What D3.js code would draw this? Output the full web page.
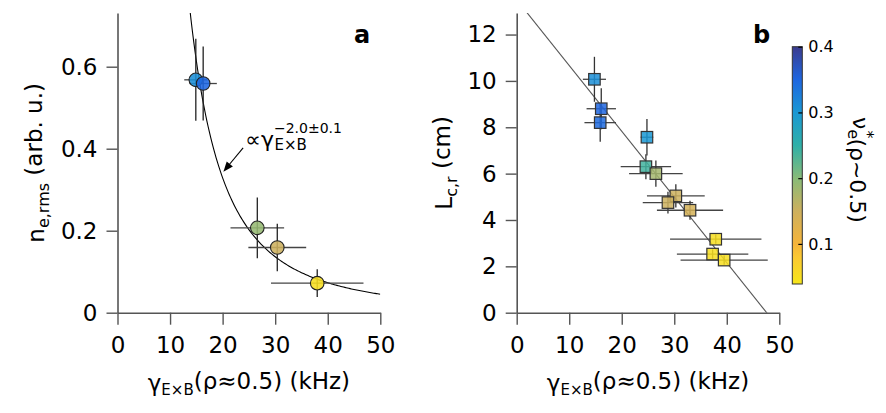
<!DOCTYPE html>
<html><head><meta charset="utf-8">
<script src="https://cdn.jsdelivr.net/npm/d3@7"></script>
<style>
body{margin:0;background:#fff;}
svg{display:block;font-family:"DejaVu Sans",sans-serif;}
</style></head>
<body>
<svg id="c" width="886" height="413"></svg>
<script>
// ---- data: panel a ----
const aGamma    = [14.9, 16.3, 26.6, 30.4, 38.0];
const aNe       = [0.568, 0.559, 0.207, 0.159, 0.072];
const aGammaErr = [2.2, 2.6, 5.1, 5.5, 8.8];
const aNeErr    = [0.10, 0.09, 0.074, 0.058, 0.034];
const aNu       = [0.31, 0.35, 0.19, 0.15, 0.05];
// power-law fit  n = A * gamma^P
const fitA = 219, fitP = -2.17;

// ---- data: panel b ----
const bGamma    = [14.8, 16.1, 15.9, 24.8, 24.6, 26.5, 30.3, 28.8, 33.0, 37.9, 37.3, 39.5];
const bLc       = [10.07, 8.80, 8.20, 7.57, 6.30, 6.00, 5.04, 4.75, 4.42, 3.17, 2.53, 2.27];
const bGammaErr = [2.2, 2.8, 3.0, 1.2, 4.8, 5.1, 5.5, 4.8, 6.3, 8.7, 6.8, 8.3];
const bLcErr    = [0.97, 0.88, 0.82, 0.79, 0.54, 0.57, 0.50, 0.47, 0.41, 0.20, 0.20, 0.20];
const bNu       = [0.31, 0.35, 0.345, 0.30, 0.24, 0.18, 0.15, 0.15, 0.14, 0.05, 0.05, 0.05];
// linear fit  L = b0 + b1*gamma
const lineB0 = 13.5, lineB1 = -0.2836;

// ---- ticks / colormap ----
const xTicks = [0, 10, 20, 30, 40, 50];
const aYTicks = [0, 0.2, 0.4, 0.6];
const bYTicks = [0, 2, 4, 6, 8, 10, 12];
const cbTicks = [0.1, 0.2, 0.3, 0.4];
const cmapStops = [0.039, 0.08, 0.10, 0.15, 0.20, 0.25, 0.30, 0.35, 0.40];
const cmapColors = ["#f6e61a","#fbc832","#f5b43a","#cdb05e","#88bb78","#2fb0a8","#1a98d4","#1e66e0","#3b3b8e"];

const svg = d3.select("#c");
const FONT = "DejaVu Sans";
const color = d3.scaleLinear().domain(cmapStops).range(cmapColors).interpolate(d3.interpolateRgb);

const yTop = 13, yBot = 312.7;
function styleAxis(g){
  g.selectAll("path.domain").attr("stroke","#555").attr("stroke-width",1.6);
  g.selectAll(".tick line").attr("stroke","#555").attr("stroke-width",1.4);
  g.selectAll(".tick text").attr("fill","#000").attr("font-size",23).attr("font-family",FONT);
}

// ================= Panel a =================
const xa = d3.scaleLinear().domain([0,50]).range([117.5,380.3]);
const ya = d3.scaleLinear().domain([0,0.731]).range([yBot,yTop]);
const ga = svg.append("g");
ga.append("defs").append("clipPath").attr("id","clipA").append("rect")
  .attr("x",xa(0)).attr("y",yTop).attr("width",xa(50)-xa(0)).attr("height",yBot-yTop);

// fit curve
const curveX = d3.range(10, 50.01, 0.25);
ga.append("path").attr("clip-path","url(#clipA)")
  .attr("d", d3.line().x(d=>xa(d)).y(d=>ya(fitA*Math.pow(d,fitP)))(curveX))
  .attr("fill","none").attr("stroke","#000").attr("stroke-width",1.1);

ga.append("g").attr("transform",`translate(0,${yBot})`)
  .call(d3.axisBottom(xa).tickValues(xTicks).tickFormat(d3.format("d")).tickSize(12).tickSizeOuter(0).tickPadding(12))
  .call(styleAxis);
ga.append("g").attr("transform",`translate(${xa(0)},0)`)
  .call(d3.axisLeft(ya).tickValues(aYTicks).tickFormat(d=>d===0?"0":d3.format(".1f")(d)).tickSize(11).tickSizeOuter(0).tickPadding(9))
  .call(styleAxis);

// error bars + markers
aGamma.forEach((g,i)=>{
  ga.append("line").attr("x1",xa(g-aGammaErr[i])).attr("x2",xa(g+aGammaErr[i]))
    .attr("y1",ya(aNe[i])).attr("y2",ya(aNe[i])).attr("stroke","#444").attr("stroke-width",1.3);
  ga.append("line").attr("x1",xa(g)).attr("x2",xa(g))
    .attr("y1",ya(aNe[i]-aNeErr[i])).attr("y2",ya(aNe[i]+aNeErr[i])).attr("stroke","#222").attr("stroke-width",1.3);
});
aGamma.forEach((g,i)=>{
  ga.append("circle").attr("cx",xa(g)).attr("cy",ya(aNe[i])).attr("r",6.8)
    .attr("fill",color(aNu[i])).attr("fill-opacity",0.88).attr("stroke","#222").attr("stroke-width",1.1);
});

// annotation
const annX = xa(24.3), annY = ya(0.405);
const annMain = ga.append("text").attr("x",annX).attr("y",annY).attr("font-size",22).attr("font-family",FONT).text("∝γ");
const annW = annMain.node().getComputedTextLength();
ga.append("text").attr("x",annX+annW+0.5).attr("y",annY+3).attr("font-size",15).attr("font-family",FONT).text("E×B");
ga.append("text").attr("x",annX+annW).attr("y",annY-14).attr("font-size",14).attr("font-family",FONT).text("−2.0±0.1");
// arrow
const ax1 = xa(23.9), ay1 = ya(0.402), ax2 = xa(20.15), ay2 = ya(0.344);
const ang = Math.atan2(ay2-ay1, ax2-ax1);
ga.append("line").attr("x1",ax1).attr("y1",ay1).attr("x2",ax2-8*Math.cos(ang)).attr("y2",ay2-8*Math.sin(ang))
  .attr("stroke","#000").attr("stroke-width",1.1);
const hl=10, hw=4;
ga.append("path").attr("d",`M${ax2},${ay2} L${ax2-hl*Math.cos(ang)+hw*Math.sin(ang)},${ay2-hl*Math.sin(ang)-hw*Math.cos(ang)} L${ax2-hl*Math.cos(ang)-hw*Math.sin(ang)},${ay2-hl*Math.sin(ang)+hw*Math.cos(ang)} Z`)
  .attr("fill","#000");

// panel label
ga.append("text").attr("x",xa(45.0)).attr("y",43).attr("font-size",24).attr("font-weight","bold").attr("font-family",FONT).text("a");

// axis labels
const yla = ga.append("text").attr("transform",`translate(44,${(yTop+yBot)/2}) rotate(-90)`)
  .attr("text-anchor","middle").attr("font-size",23).attr("font-family",FONT);
yla.append("tspan").text("n");
yla.append("tspan").attr("font-size",16).attr("dy","0.3em").text("e,rms");
yla.append("tspan").attr("dy","-0.3em").text(" (arb. u.)");

function xLabel(g, cx){
  const t = g.append("text").attr("x",cx).attr("y",391).attr("text-anchor","middle").attr("font-size",23).attr("font-family",FONT);
  t.append("tspan").text("γ");
  t.append("tspan").attr("font-size",15).attr("dy","0.25em").text("E×B");
  t.append("tspan").attr("dy","-0.25em").text("(ρ≈0.5) (kHz)");
}
xLabel(ga, (xa(0)+xa(50))/2);

// ================= Panel b =================
const xb = d3.scaleLinear().domain([0,50]).range([516.7,779.3]);
const yb = d3.scaleLinear().domain([0,12.93]).range([yBot,yTop]);
const gb = svg.append("g");
gb.append("defs").append("clipPath").attr("id","clipB").append("rect")
  .attr("x",xb(0)).attr("y",yTop).attr("width",xb(50)-xb(0)).attr("height",yBot-yTop);

gb.append("line").attr("clip-path","url(#clipB)")
  .attr("x1",xb(0)).attr("y1",yb(lineB0)).attr("x2",xb(50)).attr("y2",yb(lineB0+lineB1*50))
  .attr("stroke","#555").attr("stroke-width",1.1);

gb.append("g").attr("transform",`translate(0,${yBot})`)
  .call(d3.axisBottom(xb).tickValues(xTicks).tickFormat(d3.format("d")).tickSize(12).tickSizeOuter(0).tickPadding(12))
  .call(styleAxis);
gb.append("g").attr("transform",`translate(${xb(0)},0)`)
  .call(d3.axisLeft(yb).tickValues(bYTicks).tickFormat(d3.format("d")).tickSize(11).tickSizeOuter(0).tickPadding(9))
  .call(styleAxis);

bGamma.forEach((g,i)=>{
  gb.append("line").attr("x1",xb(g-bGammaErr[i])).attr("x2",xb(g+bGammaErr[i]))
    .attr("y1",yb(bLc[i])).attr("y2",yb(bLc[i])).attr("stroke","#444").attr("stroke-width",1.3);
  gb.append("line").attr("x1",xb(g)).attr("x2",xb(g))
    .attr("y1",yb(bLc[i]-bLcErr[i])).attr("y2",yb(bLc[i]+bLcErr[i])).attr("stroke","#333").attr("stroke-width",1.3);
});
const sq = 11.5;
bGamma.forEach((g,i)=>{
  gb.append("rect").attr("x",xb(g)-sq/2).attr("y",yb(bLc[i])-sq/2).attr("width",sq).attr("height",sq)
    .attr("fill",color(bNu[i])).attr("fill-opacity",0.85).attr("stroke","#333").attr("stroke-width",1.2);
});

gb.append("text").attr("x",xb(45.0)).attr("y",43).attr("font-size",24).attr("font-weight","bold").attr("font-family",FONT).text("b");

const ylb = gb.append("text").attr("transform",`translate(452,${(yTop+yBot)/2}) rotate(-90)`)
  .attr("text-anchor","middle").attr("font-size",23).attr("font-family",FONT);
ylb.append("tspan").text("L");
ylb.append("tspan").attr("font-size",16).attr("dy","0.3em").text("c,r");
ylb.append("tspan").attr("dy","-0.3em").text(" (cm)");
xLabel(gb, (xb(0)+xb(50))/2);

// ================= Colorbar =================
const cbX = 792.3, cbW = 10;
const cb = d3.scaleLinear().domain([0.039,0.4]).range([284,46.7]);
const grad = svg.append("defs").append("linearGradient").attr("id","cbg")
  .attr("x1",0).attr("y1",1).attr("x2",0).attr("y2",0);
cmapStops.forEach((s,i)=>{
  grad.append("stop").attr("offset",(s-0.039)/(0.4-0.039)).attr("stop-color",cmapColors[i]);
});
svg.append("rect").attr("x",cbX).attr("y",cb(0.4)).attr("width",cbW).attr("height",cb(0.039)-cb(0.4))
  .attr("fill","url(#cbg)").attr("stroke","#333").attr("stroke-width",1);
const cbAxis = svg.append("g").attr("transform",`translate(${cbX+cbW},0)`)
  .call(d3.axisRight(cb).tickValues(cbTicks).tickFormat(d3.format(".1f")).tickSize(-4).tickPadding(6));
cbAxis.select("path.domain").remove();
cbAxis.selectAll(".tick line").attr("stroke","#000").attr("stroke-width",1.2);
cbAxis.selectAll(".tick text").attr("font-size",16).attr("font-family",FONT).attr("fill","#000");

const cbt = svg.append("text").attr("transform",`translate(853,170) rotate(90)`)
  .attr("text-anchor","middle").attr("font-size",22).attr("font-family",FONT);
cbt.append("tspan").text("ν");
cbt.append("tspan").attr("font-size",16).attr("dy","0.3em").text("e");
cbt.append("tspan").attr("font-size",16).attr("dy","-0.85em").attr("dx","-0.55em").text("*");
cbt.append("tspan").attr("dy","0.55em").text("(ρ~0.5)");
</script>
</body></html>
